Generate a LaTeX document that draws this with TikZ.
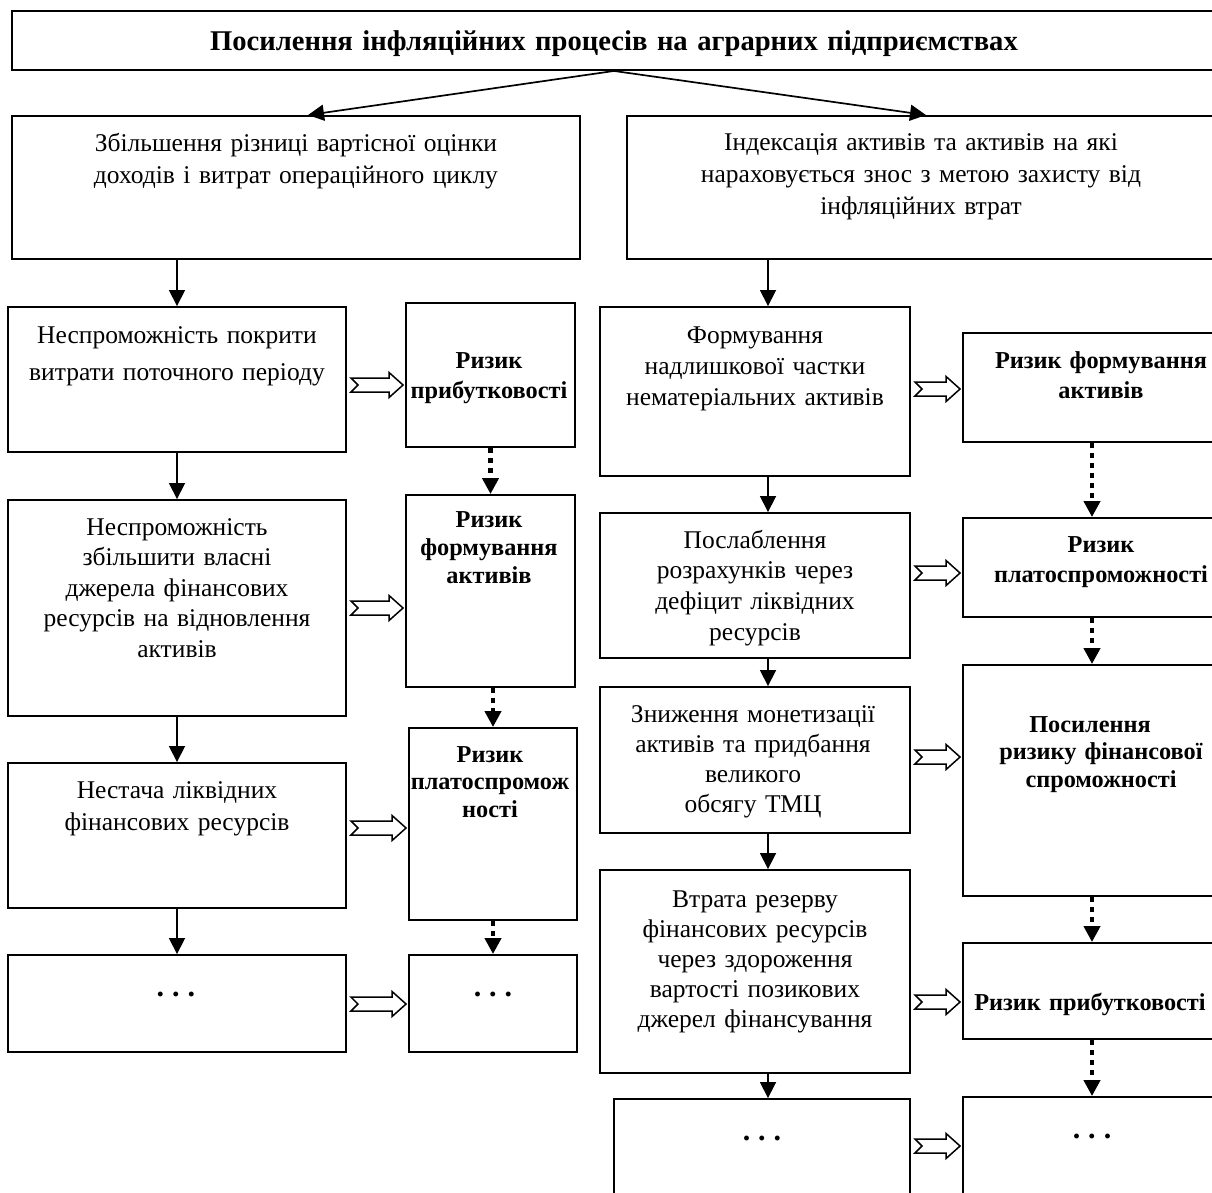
\documentclass[tikz,border=0pt]{standalone}
\usepackage{fontspec}
\setmainfont{Liberation Serif}
\usetikzlibrary{arrows.meta,calc}

\tikzset{
  box/.style={draw, line width=1.9pt, inner sep=0pt},
  txt/.style={font=\fontsize{25.5}{#1}\selectfont, align=center, anchor=base,
    inner sep=0pt, text width=600pt},
  txt/.default=31,
  rtxt/.style={txt=#1, font=\fontsize{24.3}{#1}\selectfont\bfseries},
  rtxt/.default=29,
  dots/.style={txt, font=\fontsize{30}{30}\selectfont\bfseries},
  arr/.style={line width=1.7pt, -{Triangle[width=16pt,length=16pt]}},
  dotarr/.style={line width=4.5pt, dash pattern=on 5pt off 5pt,
    -{Triangle[width=16pt,length=16pt]}},
  hollow/.style={line width=1.5pt, fill=white, line join=miter}
}

% open arrow with notched tail: left node, right node, y
\newcommand{\hollowarrow}[3]{
  \coordinate (ha-s) at ($(#1.east |- 0,#3)+(4,0)$);
  \coordinate (ha-e) at ($(#2.west |- 0,#3)+(-2,0)$);
  \draw[hollow] ($(ha-s)+(0,-7)$) -- ($(ha-e)+(-14,-7)$) -- ($(ha-e)+(-14,-12.5)$)
    -- (ha-e) -- ($(ha-e)+(-14,12.5)$) -- ($(ha-e)+(-14,7)$) -- ($(ha-s)+(0,7)$)
    -- ($(ha-s)+(7,0)$) -- cycle;
}
\newcommand{\threedots}{.\kern8pt.\kern8pt.}

\begin{document}
\begin{tikzpicture}[x=1pt,y=-1pt]
\useasboundingbox (0,0) rectangle (1212,1192);
\clip (0,0) rectangle (1212,1192);
\coordinate (rc) at (768,0);
\coordinate (rrc) at (1092,0);

% boxes
\node[box, minimum width=1204pt, minimum height=59pt] (top) at (614,40.5) {};
\node[box, minimum width=568pt, minimum height=143pt] (l1) at (296,187.5) {};
\node[box, minimum width=589pt, minimum height=143pt] (r1) at (921.5,187.5) {};

\node[box, minimum width=338pt, minimum height=145pt] (l2) at (177,379.5) {};
\node[box, minimum width=338pt, minimum height=216pt] (l3) at (177,608) {};
\node[box, minimum width=338pt, minimum height=145pt] (l4) at (177,835.5) {};
\node[box, minimum width=338pt, minimum height=97pt] (l5) at (177,1003.5) {};

\node[box, minimum width=169pt, minimum height=144pt] (rl2) at (490.5,375) {};
\node[box, minimum width=169pt, minimum height=192pt] (rl3) at (490.5,591) {};
\node[box, minimum width=168pt, minimum height=192pt] (rl4) at (493,824) {};
\node[box, minimum width=168pt, minimum height=97pt] (rl5) at (493,1003.5) {};

\node[box, minimum width=310pt, minimum height=169pt] (r2) at (755,391.5) {};
\node[box, minimum width=310pt, minimum height=145pt] (r3) at (755,585.5) {};
\node[box, minimum width=310pt, minimum height=146pt] (r4) at (755,760) {};
\node[box, minimum width=310pt, minimum height=203pt] (r5) at (755,971.5) {};
\node[box, minimum width=296pt, minimum height=131pt] (r6) at (762,1164.5) {};

\node[box, minimum width=276pt, minimum height=109pt] (rr2) at (1101,387.5) {};
\node[box, minimum width=276pt, minimum height=99pt] (rr3) at (1101,567.5) {};
\node[box, minimum width=276pt, minimum height=231pt] (rr4) at (1101,780.5) {};
\node[box, minimum width=276pt, minimum height=96pt] (rr5) at (1101,991) {};
\node[box, minimum width=276pt, minimum height=133pt] (rr6) at (1101,1163.5) {};

% texts
\node[txt, text width=1000pt, font=\fontsize{28.6}{30}\selectfont\bfseries] (top-t) at (614,50) {Посилення інфляційних процесів на аграрних підприємствах};
\node[txt=32] (l1-t) at (296,151) {Збільшення різниці вартісної оцінки\\доходів і витрат операційного циклу};
\node[txt=32] (r1-t) at (921,150) {Індексація активів та активів на які\\нараховується знос з метою захисту від\\інфляційних втрат};
\node[txt=37] (l2-t) at (177,343) {Неспроможність покрити\\витрати поточного періоду};
\node[txt=30.5] (l3-t) at (177,535) {Неспроможність\\збільшити власні\\джерела фінансових\\ресурсів на відновлення\\активів};
\node[txt=32] (l4-t) at (177,798) {Нестача ліквідних\\фінансових ресурсів};
\node[dots] (l5-t) at (176,996) {\threedots};
\node[rtxt=30] (rl2-t) at (489,368) {Ризик\\прибутковості};
\node[rtxt=28] (rl3-t) at (489,527) {Ризик\\формування\\активів};
\node[rtxt=27.5] (rl4-t) at (490,762) {Ризик\\платоспромож\\ності};
\node[dots] (rl5-t) at (493,996) {\threedots};
\node[txt=31] (r2-t) at (755,343) {Формування\\надлишкової частки\\нематеріальних активів};
\node[txt=30.7] (r3-t) at (755,548) {Послаблення\\розрахунків через\\дефіцит ліквідних\\ресурсів};
\node[txt=30.3] (r4-t) at (753,722) {Зниження монетизації\\активів та придбання\\великого\\обсягу ТМЦ};
\node[txt=30.2] (r5-t) at (755,907) {Втрата резерву\\фінансових ресурсів\\через здороження\\вартості позикових\\джерел фінансування};
\node[dots] (r6-t) at (762,1140) {\threedots};
\node[rtxt=30] (rr2-t) at (1101,368) {Ризик формування\\активів};
\node[rtxt=30] (rr3-t) at (1101,552) {Ризик\\платоспроможності};
\node[rtxt=27.5] (rr4-t) at (1101,732) {Посилення\rule{22pt}{0pt}\\ризику фінансової\\спроможності};
\node[rtxt] (rr5-t) at (1090,1010) {Ризик прибутковості};
\node[dots] (rr6-t) at (1092,1138) {\threedots};

% connectors
\draw[arr] (top.south) -- (l1.north -| 308,0);
\draw[arr] (top.south) -- (r1.north -| 926,0);
\draw[arr] (l1.south -| l2.north) -- (l2.north);
\draw[arr] (l2) -- (l3);
\draw[arr] (l3) -- (l4);
\draw[arr] (l4) -- (l5);
\draw[arr] (r1.south -| rc) -- (r2.north -| rc);
\draw[arr] (r2.south -| rc) -- (r3.north -| rc);
\draw[arr] (r3.south -| rc) -- (r4.north -| rc);
\draw[arr] (r4.south -| rc) -- (r5.north -| rc);
\draw[arr] (r5.south -| rc) -- (r6.north -| rc);

\draw[dotarr] (rl2) -- (rl3);
\draw[dotarr] (rl3.south -| rl4.north) -- (rl4.north);
\draw[dotarr] (rl4) -- (rl5);
\draw[dotarr] (rr2.south -| rrc) -- (rr3.north -| rrc);
\draw[dotarr] (rr3.south -| rrc) -- (rr4.north -| rrc);
\draw[dotarr] (rr4.south -| rrc) -- (rr5.north -| rrc);
\draw[dotarr] (rr5.south -| rrc) -- (rr6.north -| rrc);

\hollowarrow{l2}{rl2}{385}
\hollowarrow{l3}{rl3}{608}
\hollowarrow{l4}{rl4}{828}
\hollowarrow{l5}{rl5}{1004}
\hollowarrow{r2}{rr2}{389}
\hollowarrow{r3}{rr3}{573}
\hollowarrow{r4}{rr4}{757}
\hollowarrow{r5}{rr5}{1002}
\hollowarrow{r6}{rr6}{1146}
\end{tikzpicture}
\end{document}
